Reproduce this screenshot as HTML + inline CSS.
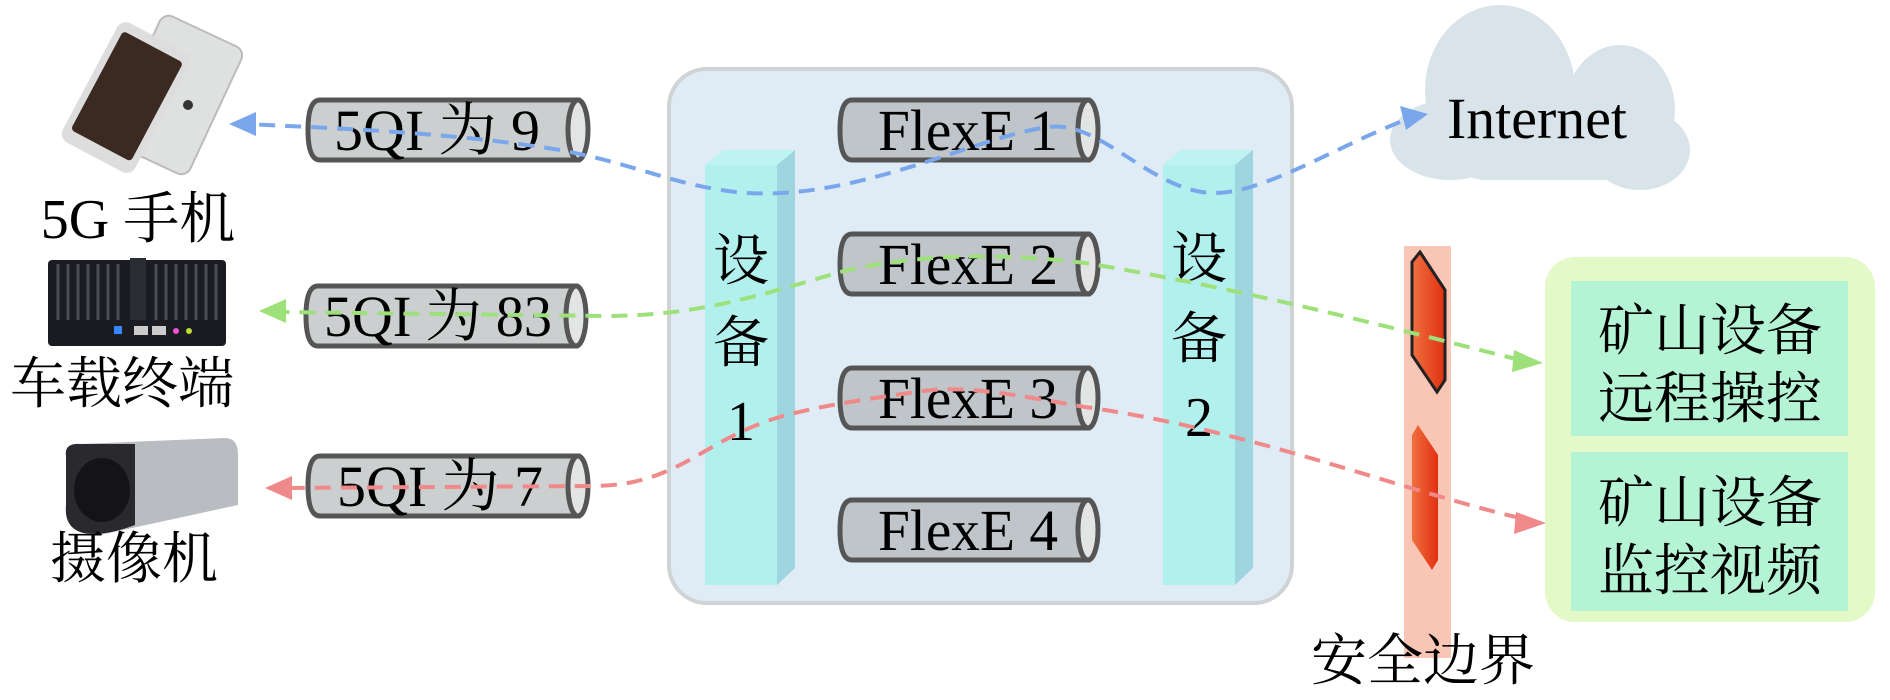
<!DOCTYPE html>
<html><head><meta charset="utf-8"><style>
html,body{margin:0;padding:0;background:#fff;}
svg{display:block;font-family:"Liberation Serif","Noto Serif CJK SC",serif;}
</style></head><body>
<svg width="1890" height="700" viewBox="0 0 1890 700" xmlns="http://www.w3.org/2000/svg">
<defs>
<linearGradient id="fw" x1="0" x2="1"><stop offset="0" stop-color="#f07040"/><stop offset="1" stop-color="#e03010"/></linearGradient>
</defs>

<rect x="669" y="69" width="623" height="534" rx="38" fill="#dfecf6" stroke="#cfd3d3" stroke-width="4"/>

<g fill="#d9e4ea">
<ellipse cx="1500" cy="90" rx="75" ry="85"/>
<ellipse cx="1620" cy="110" rx="55" ry="65"/>
<ellipse cx="1450" cy="140" rx="60" ry="40"/>
<ellipse cx="1640" cy="150" rx="50" ry="40"/>
<rect x="1450" y="110" width="220" height="70" rx="35"/>
</g>
<text x="1537" y="138" font-size="58" text-anchor="middle" textLength="180" lengthAdjust="spacingAndGlyphs">Internet</text>

<rect x="1545" y="257" width="330" height="365" rx="30" fill="#e3fac8"/>
<rect x="1571" y="281" width="277" height="155" fill="#b4f4d4"/>
<rect x="1571" y="452" width="277" height="159" fill="#b4f4d4"/>
<g font-size="56" text-anchor="middle">
<text x="1710" y="350">矿山设备</text>
<text x="1710" y="418">远程操控</text>
<text x="1710" y="522">矿山设备</text>
<text x="1710" y="590">监控视频</text>
</g>

<rect x="1404" y="246" width="47" height="412" fill="#f9c6b6"/>
<path d="M1412,262 L1420,252 L1445,290 L1445,380 L1437,392 L1412,355 Z" fill="url(#fw)" stroke="#222" stroke-width="3"/>
<path d="M1412,435 L1418,425 L1438,455 L1438,560 L1432,570 L1412,540 Z" fill="url(#fw)"/>
<text x="1423" y="680" font-size="56" text-anchor="middle">安全边界</text>

<g stroke="#555" stroke-width="5">
<path d="M320,100 L578,100 L578,160 L320,160 Q308,160 308,130 Q308,100 320,100 Z" fill="#cbcfd0"/>
<ellipse cx="578" cy="130" rx="10" ry="30" fill="#e3e5e5"/>
<path d="M318,286 L576,286 L576,346 L318,346 Q306,346 306,316 Q306,286 318,286 Z" fill="#cbcfd0"/>
<ellipse cx="576" cy="316" rx="10" ry="30" fill="#e3e5e5"/>
<path d="M320,456 L578,456 L578,516 L320,516 Q308,516 308,486 Q308,456 320,456 Z" fill="#cbcfd0"/>
<ellipse cx="578" cy="486" rx="10" ry="30" fill="#e3e5e5"/>
<path d="M852,100 L1088,100 L1088,160 L852,160 Q840,160 840,130 Q840,100 852,100 Z" fill="#bfc5c8"/>
<ellipse cx="1088" cy="130" rx="10" ry="30" fill="#e3e5e5"/>
<path d="M852,234 L1088,234 L1088,294 L852,294 Q840,294 840,264 Q840,234 852,234 Z" fill="#bfc5c8"/>
<ellipse cx="1088" cy="264" rx="10" ry="30" fill="#e3e5e5"/>
<path d="M852,368 L1088,368 L1088,428 L852,428 Q840,428 840,398 Q840,368 852,368 Z" fill="#bfc5c8"/>
<ellipse cx="1088" cy="398" rx="10" ry="30" fill="#e3e5e5"/>
<path d="M852,500 L1088,500 L1088,560 L852,560 Q840,560 840,530 Q840,500 852,500 Z" fill="#bfc5c8"/>
<ellipse cx="1088" cy="530" rx="10" ry="30" fill="#e3e5e5"/>
</g>
<g font-size="58" text-anchor="middle">
<text x="437" y="150" textLength="206" lengthAdjust="spacingAndGlyphs">5QI 为 9</text>
<text x="438" y="336" textLength="228" lengthAdjust="spacingAndGlyphs">5QI 为 83</text>
<text x="440" y="506" textLength="206" lengthAdjust="spacingAndGlyphs">5QI 为 7</text>
<text x="968" y="150" textLength="180" lengthAdjust="spacingAndGlyphs">FlexE 1</text>
<text x="968" y="284" textLength="180" lengthAdjust="spacingAndGlyphs">FlexE 2</text>
<text x="968" y="418" textLength="180" lengthAdjust="spacingAndGlyphs">FlexE 3</text>
<text x="968" y="550" textLength="180" lengthAdjust="spacingAndGlyphs">FlexE 4</text>
</g>

<polygon points="705,165 723,150 795,150 777,165" fill="#bdf4f1"/>
<polygon points="777,165 795,150 795,568 777,585" fill="#9fd5df"/>
<rect x="705" y="165" width="72" height="420" fill="#b2f0ee"/>
<polygon points="1163,165 1181,150 1253,150 1235,165" fill="#bdf4f1"/>
<polygon points="1235,165 1253,150 1253,568 1235,585" fill="#9fd5df"/>
<rect x="1163" y="165" width="72" height="420" fill="#b2f0ee"/>
<g font-size="56" text-anchor="middle">
<text x="741" y="280">设</text><text x="741" y="362">备</text><text x="741" y="440">1</text>
<text x="1199" y="278">设</text><text x="1199" y="358">备</text><text x="1199" y="436">2</text>
</g>

<g fill="none" stroke-width="4" stroke-dasharray="16,10">
<path d="M1400,122 C1330,150 1260,195 1211,193 C1150,190 1100,120 1049,127 C980,135 860,200 747,193 C680,188 640,165 560,150 C450,132 330,128 245,124" stroke="#7aa6ec"/>
<path d="M1520,360 C1400,330 1250,290 1085,263 C980,250 900,258 844,271 C760,295 700,316 603,316 L275,312" stroke="#9ee07a"/>
<path d="M1520,518 C1400,490 1250,430 1085,407 C1000,392 960,385 916,392 C860,400 820,406 783,416 C700,440 680,486 591,486 L280,488" stroke="#f08a8a"/>
</g>
<polygon points="229,124 256,112 256,136" fill="#7aa6ec"/>
<polygon points="1428,114 1400,106 1406,130" fill="#7aa6ec"/>
<polygon points="259,311 286,299 286,323" fill="#9ee07a"/>
<polygon points="1543,363 1514,350 1512,372" fill="#9ee07a"/>
<polygon points="265,488 292,476 292,500" fill="#f08a8a"/>
<polygon points="1546,523 1516,512 1514,534" fill="#f08a8a"/>

<g>
<rect x="130" y="25" width="90" height="140" rx="10" fill="#dfe1e1" stroke="#bbb" stroke-width="2" transform="rotate(25 175 95)"/>
<rect x="85" y="30" width="82" height="135" rx="10" fill="#ddd" transform="rotate(28 126 98)"/>
<rect x="92" y="40" width="68" height="112" rx="4" fill="#3a2a22" transform="rotate(28 126 98)"/>
<circle cx="188" cy="105" r="5" fill="#333"/>
</g>
<text x="138" y="238" font-size="56" text-anchor="middle">5G 手机</text>

<g>
<rect x="48" y="260" width="178" height="86" rx="4" fill="#1b1c22"/>
<g stroke="#4a4c55" stroke-width="3">
<line x1="58" y1="264" x2="58" y2="320"/><line x1="68" y1="264" x2="68" y2="320"/><line x1="78" y1="264" x2="78" y2="320"/><line x1="88" y1="264" x2="88" y2="320"/><line x1="98" y1="264" x2="98" y2="320"/><line x1="108" y1="264" x2="108" y2="320"/><line x1="118" y1="264" x2="118" y2="320"/><line x1="156" y1="264" x2="156" y2="320"/><line x1="166" y1="264" x2="166" y2="320"/><line x1="176" y1="264" x2="176" y2="320"/><line x1="186" y1="264" x2="186" y2="320"/><line x1="196" y1="264" x2="196" y2="320"/><line x1="206" y1="264" x2="206" y2="320"/><line x1="216" y1="264" x2="216" y2="320"/>
</g>
<rect x="130" y="258" width="16" height="62" fill="#2b2d34"/>
<rect x="114" y="326" width="8" height="8" fill="#38f"/>
<rect x="134" y="326" width="14" height="9" fill="#ccc"/><rect x="152" y="326" width="14" height="9" fill="#ccc"/>
<circle cx="176" cy="331" r="3" fill="#e5c"/><circle cx="189" cy="331" r="3" fill="#bd3"/>
</g>
<text x="122" y="403" font-size="56" text-anchor="middle">车载终端</text>

<g>
<path d="M80,444 L225,438 Q238,438 238,455 L238,505 L100,535 Q70,538 66,505 L66,460 Q68,444 80,444 Z" fill="#b9bcc0"/>
<path d="M66,456 Q64,443 80,444 L135,444 L135,525 Q100,538 80,532 Q64,526 66,505 Z" fill="#2a2a2e"/>
<ellipse cx="102" cy="490" rx="28" ry="32" fill="#141416"/>
</g>
<text x="134" y="578" font-size="56" text-anchor="middle">摄像机</text>
</svg>
</body></html>
